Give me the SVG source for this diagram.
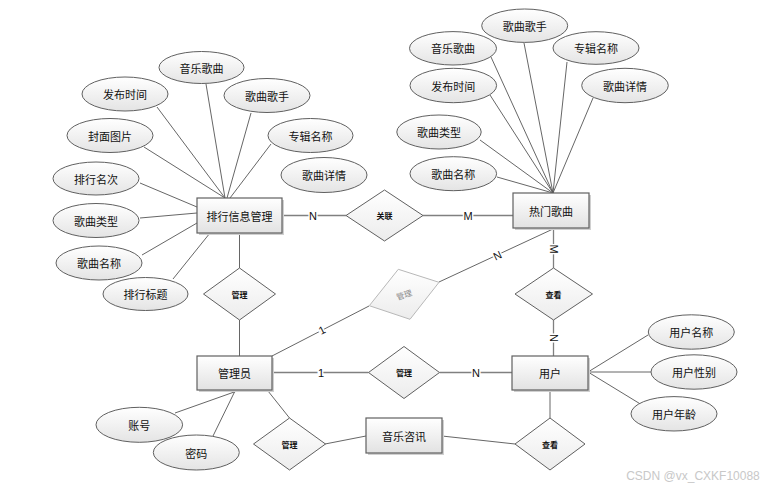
<svg xmlns="http://www.w3.org/2000/svg" width="778" height="490" viewBox="0 0 778 490">
<defs>
<linearGradient id="gE" x1="0" y1="0" x2="0" y2="1"><stop offset="0" stop-color="#ffffff"/><stop offset="1" stop-color="#e4e4e4"/></linearGradient>
<linearGradient id="gR" x1="0" y1="0" x2="0" y2="1"><stop offset="0" stop-color="#ffffff"/><stop offset="1" stop-color="#e2e2e2"/></linearGradient>
<linearGradient id="gD" x1="0" y1="0" x2="0" y2="1"><stop offset="0" stop-color="#ffffff"/><stop offset="1" stop-color="#ececec"/></linearGradient>
<style>
.e{fill:url(#gE);stroke:#606060;stroke-width:1}
.r{fill:url(#gR);stroke:#606060;stroke-width:1.2}
.sh{fill:#d0d0d0;stroke:none}
.d{fill:url(#gD);stroke:#606060;stroke-width:1}
.t{font-family:"Noto Sans CJK SC","Liberation Sans",sans-serif;font-size:11px;fill:#111;text-anchor:middle;dominant-baseline:central}
.td{font-family:"Noto Sans CJK SC","Liberation Sans",sans-serif;font-size:8px;font-weight:bold;fill:#111;text-anchor:middle;dominant-baseline:central}
.a{stroke:#555;stroke-width:0.9;fill:none}
.c{stroke:#808080;stroke-width:1.3;fill:none}
.l{font-family:"Liberation Sans",sans-serif;font-size:11px;fill:#111;text-anchor:middle;dominant-baseline:central;stroke:#fff;stroke-width:3;paint-order:stroke}
</style>
</defs>
<rect width="778" height="490" fill="#ffffff"/>
<g id="connectors">
<!-- left attributes -->
<line class="a" x1="157" y1="107" x2="225" y2="198"/>
<line class="a" x1="206" y1="84" x2="225" y2="198"/>
<line class="a" x1="251" y1="113" x2="227" y2="198"/>
<line class="a" x1="144" y1="147" x2="225" y2="198"/>
<line class="a" x1="271" y1="144" x2="230" y2="198"/>
<line class="a" x1="140" y1="183" x2="197" y2="207"/>
<line class="a" x1="140" y1="218" x2="197" y2="213"/>
<line class="a" x1="142" y1="255" x2="197" y2="223"/>
<line class="a" x1="173" y1="279" x2="210" y2="233"/>
<!-- right attributes -->
<line class="a" x1="491" y1="57" x2="553" y2="193"/>
<line class="a" x1="524" y1="43" x2="553" y2="193"/>
<line class="a" x1="567" y1="62" x2="553" y2="193"/>
<line class="a" x1="490" y1="95" x2="553" y2="193"/>
<line class="a" x1="593" y1="98" x2="553" y2="193"/>
<line class="a" x1="480" y1="140" x2="553" y2="193"/>
<line class="a" x1="497" y1="177" x2="553" y2="193"/>
<!-- user attributes -->
<line class="a" x1="588" y1="372" x2="648" y2="335"/>
<line class="a" x1="588" y1="372" x2="651" y2="372"/>
<line class="a" x1="588" y1="372" x2="642" y2="405"/>
<!-- admin attributes -->
<line class="a" x1="237" y1="391" x2="175" y2="413"/>
<line class="a" x1="235" y1="391" x2="213" y2="436"/>
<!-- relations -->
<line class="c" x1="282" y1="215.5" x2="346" y2="215.5"/>
<line class="c" x1="423" y1="215.5" x2="513" y2="215.5"/>
<line class="a" x1="239.5" y1="233" x2="239.5" y2="268"/>
<line class="a" x1="239.5" y1="320" x2="239.5" y2="356"/>
<line class="a" x1="272" y1="356" x2="369" y2="306"/>
<line class="a" x1="439" y1="282" x2="553" y2="229"/>
<line class="c" x1="553.5" y1="229" x2="553.5" y2="268"/>
<line class="c" x1="553.5" y1="320" x2="553.5" y2="356"/>
<line class="c" x1="272" y1="372.5" x2="368.5" y2="372.5"/>
<line class="c" x1="439.5" y1="372.5" x2="512" y2="372.5"/>
<line class="a" x1="268" y1="391" x2="289.5" y2="418"/>
<line class="a" x1="325" y1="444" x2="366" y2="436"/>
<line class="a" x1="442" y1="436" x2="515" y2="444"/>
<line class="a" x1="550" y1="390" x2="550" y2="418"/>
<!-- cardinality labels -->
<text class="l" x="313" y="215.5">N</text>
<text class="l" x="468" y="215.5">M</text>
<text class="l" x="321" y="373">1</text>
<text class="l" x="476" y="373">N</text>
<text class="l" x="322" y="330" transform="rotate(-27 322 330)">1</text>
<text class="l" x="497.5" y="255.5" transform="rotate(-25 497.5 255.5)">N</text>
<text class="l" x="554" y="249" transform="rotate(90 554 249)">M</text>
<text class="l" x="554" y="338" transform="rotate(90 554 338)">N</text>
</g>
<g id="rank">
<rect class="sh" x="199" y="200" width="85" height="35"/>
<rect class="r" x="197" y="198" width="85" height="35"/>
<text class="t" x="239.5" y="215.5">排行信息管理</text>
</g>
<g id="hot">
<rect class="sh" x="515" y="195" width="76" height="35"/>
<rect class="r" x="513" y="193" width="76" height="35"/>
<text class="t" x="551" y="210.5">热门歌曲</text>
</g>
<g id="admin">
<rect class="sh" x="199" y="358" width="75" height="34"/>
<rect class="r" x="197" y="356" width="75" height="34"/>
<text class="t" x="234.5" y="373">管理员</text>
</g>
<g id="user">
<rect class="sh" x="514" y="358" width="76" height="34"/>
<rect class="r" x="512" y="356" width="76" height="34"/>
<text class="t" x="550" y="373">用户</text>
</g>
<g id="news">
<rect class="sh" x="368" y="420" width="76" height="35"/>
<rect class="r" x="366" y="418" width="76" height="35"/>
<text class="t" x="404" y="435.5">音乐咨讯</text>
</g>
<g id="rel-assoc">
<polygon class="d" points="346,215.5 384.5,190 423,215.5 384.5,241"/>
<text class="td" x="384.5" y="215.5">关联</text>
</g>
<g id="rel-manage-rank">
<polygon class="d" points="203.5,294 239.5,268 275.5,294 239.5,320"/>
<text class="td" x="239.5" y="294">管理</text>
</g>
<g id="rel-manage-hot">
<polygon points="369.3,305.7 398.3,269.3 439,282.3 410,319.3" fill="url(#gD)" stroke="#b8b8b8" stroke-width="1"/>
<text x="404" y="294.5" transform="rotate(-18 404 294.5)" font-family="Noto Sans CJK SC, Liberation Sans, sans-serif" font-size="8" fill="#8a8a8a" text-anchor="middle" dominant-baseline="central">管理</text>
</g>
<g id="rel-view-hot">
<polygon class="d" points="515,294 553.5,268 592.5,294 553.5,320"/>
<text class="td" x="553.5" y="294">查看</text>
</g>
<g id="rel-manage-user">
<polygon class="d" points="368.5,372.5 404,346.5 439.5,372.5 404,398.5"/>
<text class="td" x="404" y="372.5">管理</text>
</g>
<g id="rel-manage-news">
<polygon class="d" points="253.5,444 289.5,418 325.5,444 289.5,470"/>
<text class="td" x="289.5" y="444">管理</text>
</g>
<g id="rel-view-news">
<polygon class="d" points="515,444 550,418 585,444 550,470"/>
<text class="td" x="550" y="444">查看</text>
</g>
<g id="rank-attrs">
<g id="r-music"><ellipse class="e" cx="201.5" cy="67.5" rx="42.5" ry="16"/><text class="t" x="201.5" y="67.5">音乐歌曲</text></g>
<g id="r-time"><ellipse class="e" cx="125" cy="94" rx="43" ry="17"/><text class="t" x="125" y="94">发布时间</text></g>
<g id="r-singer"><ellipse class="e" cx="267" cy="95.5" rx="43" ry="17"/><text class="t" x="267" y="95.5">歌曲歌手</text></g>
<g id="r-cover"><ellipse class="e" cx="110" cy="135.5" rx="43" ry="17"/><text class="t" x="110" y="135.5">封面图片</text></g>
<g id="r-album"><ellipse class="e" cx="310.5" cy="135.5" rx="42.5" ry="17"/><text class="t" x="310.5" y="135.5">专辑名称</text></g>
<g id="r-rank"><ellipse class="e" cx="96" cy="178.5" rx="43" ry="16.5"/><text class="t" x="96" y="178.5">排行名次</text></g>
<g id="r-detail"><ellipse class="e" cx="324" cy="175" rx="43" ry="17.5"/><text class="t" x="324" y="175">歌曲详情</text></g>
<g id="r-type"><ellipse class="e" cx="96" cy="220.5" rx="43" ry="17"/><text class="t" x="96" y="220.5">歌曲类型</text></g>
<g id="r-name"><ellipse class="e" cx="99" cy="263" rx="43" ry="17"/><text class="t" x="99" y="263">歌曲名称</text></g>
<g id="r-title"><ellipse class="e" cx="145.5" cy="294" rx="42.5" ry="16.5"/><text class="t" x="145.5" y="294">排行标题</text></g>
</g>
<g id="hot-attrs">
<g id="h-singer"><ellipse class="e" cx="524.7" cy="25.7" rx="43" ry="16.7"/><text class="t" x="524.7" y="25.7">歌曲歌手</text></g>
<g id="h-music"><ellipse class="e" cx="453" cy="48.3" rx="43.5" ry="16.7"/><text class="t" x="453" y="48.3">音乐歌曲</text></g>
<g id="h-album"><ellipse class="e" cx="596" cy="48" rx="43" ry="16.3"/><text class="t" x="596" y="48">专辑名称</text></g>
<g id="h-time"><ellipse class="e" cx="453.3" cy="85.5" rx="43.3" ry="17.2"/><text class="t" x="453.3" y="85.5">发布时间</text></g>
<g id="h-detail"><ellipse class="e" cx="625" cy="85.5" rx="43.3" ry="17.2"/><text class="t" x="625" y="85.5">歌曲详情</text></g>
<g id="h-type"><ellipse class="e" cx="439" cy="132" rx="42.2" ry="17"/><text class="t" x="439" y="132">歌曲类型</text></g>
<g id="h-name"><ellipse class="e" cx="453.3" cy="173.7" rx="43.3" ry="17"/><text class="t" x="453.3" y="173.7">歌曲名称</text></g>
</g>
<g id="user-attrs">
<g id="u-name"><ellipse class="e" cx="691.3" cy="332" rx="43" ry="17.2"/><text class="t" x="691.3" y="332">用户名称</text></g>
<g id="u-sex"><ellipse class="e" cx="694" cy="372" rx="43" ry="17.2"/><text class="t" x="694" y="372">用户性别</text></g>
<g id="u-age"><ellipse class="e" cx="674" cy="413.8" rx="43" ry="17.2"/><text class="t" x="674" y="413.8">用户年龄</text></g>
</g>
<g id="admin-attrs">
<g id="a-account"><ellipse class="e" cx="139.3" cy="424.8" rx="43.3" ry="17.5"/><text class="t" x="139.3" y="424.8">账号</text></g>
<g id="a-pwd"><ellipse class="e" cx="196.3" cy="452.5" rx="43" ry="17.5"/><text class="t" x="196.3" y="452.5">密码</text></g>
</g>
<text x="693" y="476" font-family="Liberation Sans, sans-serif" font-size="12" fill="#c8c8c8" text-anchor="middle" dominant-baseline="central">CSDN @vx_CXKF10088</text>
</svg>
